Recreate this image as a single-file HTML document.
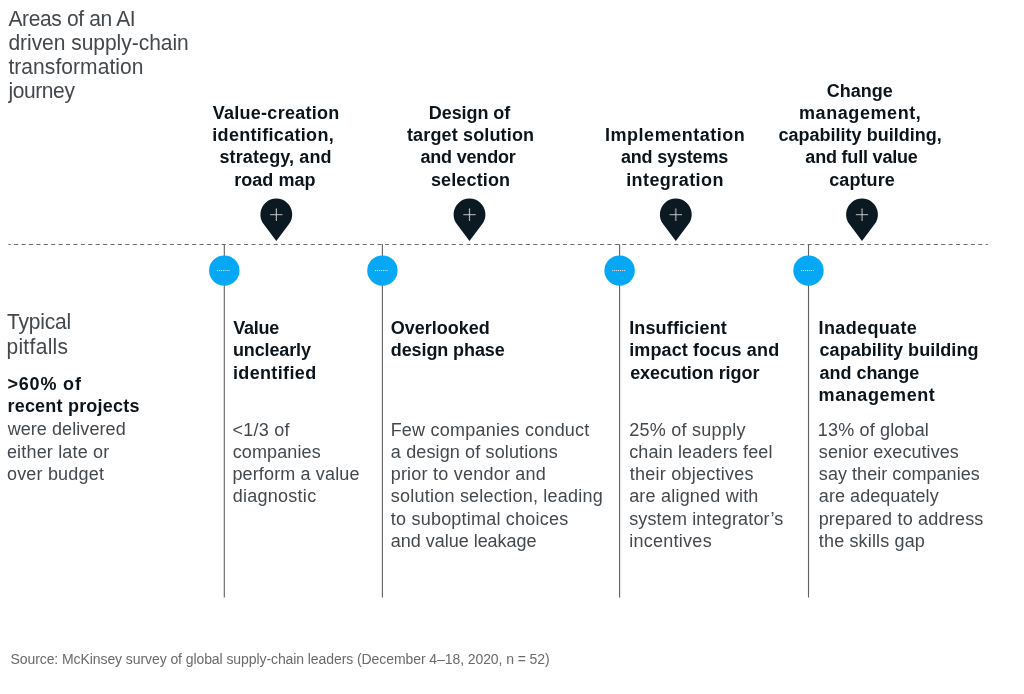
<!DOCTYPE html>
<html lang="en"><head><meta charset="utf-8"><title>Areas of an AI driven supply-chain transformation journey</title>
<style>
html,body{margin:0;padding:0;background:#fff;}
body{width:1024px;height:694px;position:relative;overflow:hidden;font-family:"Liberation Sans",sans-serif;}
.g{position:absolute;left:0;top:0;}
.t{position:absolute;white-space:nowrap;line-height:24px;height:24px;margin:0;}
.b{font-weight:700;font-size:18px;color:#0b141b;}
.r{font-weight:400;font-size:18px;color:#43484d;}
h1,h2,h3,p,footer{margin:0;padding:0;font-size:inherit;font-weight:inherit;}
.source .t{font-size:14px;color:#6a6a6a;}
.h{font-size:21px;transform:scaleY(1.07);transform-origin:0 19px;}
.m{transform:scaleY(1.04);transform-origin:0 18px;}
</style></head><body>
<svg class="g" width="1024" height="694" viewBox="0 0 1024 694">
<line x1="8.4" y1="244.5" x2="987.8" y2="244.5" stroke="#6e6e6e" stroke-width="1.1" stroke-dasharray="4.1 3.317" stroke-dashoffset="1.757"/>
<line x1="224.3" y1="244.3" x2="224.3" y2="597.5" stroke="#606060" stroke-width="1.1"/>
<line x1="382.4" y1="244.3" x2="382.4" y2="597.5" stroke="#606060" stroke-width="1.1"/>
<line x1="619.6" y1="244.3" x2="619.6" y2="597.5" stroke="#606060" stroke-width="1.1"/>
<line x1="808.5" y1="244.3" x2="808.5" y2="597.5" stroke="#606060" stroke-width="1.1"/>
<circle cx="224.3" cy="270.6" r="15.2" fill="#06a8f5"/>
<rect x="217.00" y="270" width="0.95" height="1" fill="#efe9e1"/>
<rect x="218.93" y="270" width="0.95" height="1" fill="#efe9e1"/>
<rect x="220.86" y="270" width="0.95" height="1" fill="#efe9e1"/>
<rect x="222.79" y="270" width="0.95" height="1" fill="#efe9e1"/>
<rect x="224.72" y="270" width="0.95" height="1" fill="#efe9e1"/>
<rect x="226.65" y="270" width="0.95" height="1" fill="#efe9e1"/>
<rect x="228.58" y="270" width="0.95" height="1" fill="#efe9e1"/>
<circle cx="382.4" cy="270.6" r="15.2" fill="#06a8f5"/>
<rect x="375.10" y="270" width="0.95" height="1" fill="#efe9e1"/>
<rect x="377.03" y="270" width="0.95" height="1" fill="#efe9e1"/>
<rect x="378.96" y="270" width="0.95" height="1" fill="#efe9e1"/>
<rect x="380.89" y="270" width="0.95" height="1" fill="#efe9e1"/>
<rect x="382.82" y="270" width="0.95" height="1" fill="#efe9e1"/>
<rect x="384.75" y="270" width="0.95" height="1" fill="#efe9e1"/>
<rect x="386.68" y="270" width="0.95" height="1" fill="#efe9e1"/>
<circle cx="619.6" cy="270.6" r="15.2" fill="#06a8f5"/>
<rect x="612.30" y="270" width="0.95" height="1" fill="#efe9e1"/>
<rect x="614.23" y="270" width="0.95" height="1" fill="#efe9e1"/>
<rect x="616.16" y="270" width="0.95" height="1" fill="#efe9e1"/>
<rect x="618.09" y="270" width="0.95" height="1" fill="#efe9e1"/>
<rect x="620.02" y="270" width="0.95" height="1" fill="#efe9e1"/>
<rect x="621.95" y="270" width="0.95" height="1" fill="#efe9e1"/>
<rect x="623.88" y="270" width="0.95" height="1" fill="#efe9e1"/>
<circle cx="808.5" cy="270.6" r="15.2" fill="#06a8f5"/>
<rect x="801.20" y="270" width="0.95" height="1" fill="#efe9e1"/>
<rect x="803.13" y="270" width="0.95" height="1" fill="#efe9e1"/>
<rect x="805.06" y="270" width="0.95" height="1" fill="#efe9e1"/>
<rect x="806.99" y="270" width="0.95" height="1" fill="#efe9e1"/>
<rect x="808.92" y="270" width="0.95" height="1" fill="#efe9e1"/>
<rect x="810.85" y="270" width="0.95" height="1" fill="#efe9e1"/>
<rect x="812.78" y="270" width="0.95" height="1" fill="#efe9e1"/>
<path d="M276.30 240.90 L263.58 223.94 A15.9 15.9 0 1 1 289.02 223.94 Z" fill="#0b1922"/>
<path d="M270.10 214.7 H282.50 M276.40 208.4 V221.0" stroke="#d4d4d4" stroke-width="0.9" fill="none"/>
<line x1="275.50" y1="209.4" x2="275.50" y2="220.6" stroke="#a8a8a8" stroke-width="0.8" stroke-dasharray="0.7 1.24" opacity="0.55"/>
<path d="M469.50 240.90 L456.78 223.94 A15.9 15.9 0 1 1 482.22 223.94 Z" fill="#0b1922"/>
<path d="M463.30 214.7 H475.70 M469.60 208.4 V221.0" stroke="#d4d4d4" stroke-width="0.9" fill="none"/>
<line x1="468.70" y1="209.4" x2="468.70" y2="220.6" stroke="#a8a8a8" stroke-width="0.8" stroke-dasharray="0.7 1.24" opacity="0.55"/>
<path d="M675.80 240.90 L663.08 223.94 A15.9 15.9 0 1 1 688.52 223.94 Z" fill="#0b1922"/>
<path d="M669.60 214.7 H682.00 M675.90 208.4 V221.0" stroke="#d4d4d4" stroke-width="0.9" fill="none"/>
<line x1="675.00" y1="209.4" x2="675.00" y2="220.6" stroke="#a8a8a8" stroke-width="0.8" stroke-dasharray="0.7 1.24" opacity="0.55"/>
<path d="M862.00 240.90 L849.28 223.94 A15.9 15.9 0 1 1 874.72 223.94 Z" fill="#0b1922"/>
<path d="M855.80 214.7 H868.20 M862.10 208.4 V221.0" stroke="#d4d4d4" stroke-width="0.9" fill="none"/>
<line x1="861.20" y1="209.4" x2="861.20" y2="220.6" stroke="#a8a8a8" stroke-width="0.8" stroke-dasharray="0.7 1.24" opacity="0.55"/>
</svg>
<h1 class="title">
<span class="t r h" style="left:8.40px;top:7px;letter-spacing:-0.357px">Areas of an AI</span>
<span class="t r h" style="left:8.40px;top:31px;letter-spacing:-0.031px">driven supply-chain</span>
<span class="t r h" style="left:8.40px;top:55px;letter-spacing:0.066px">transformation</span>
<span class="t r h" style="left:8.40px;top:79px;letter-spacing:-0.396px">journey</span>
</h1>
<h2 class="stage">
<span class="t b m" style="left:212.75px;top:101px;letter-spacing:0.265px">Value-creation</span>
<span class="t b m" style="left:212.25px;top:123px;letter-spacing:0.321px">identification,</span>
<span class="t b m" style="left:219.50px;top:145px;letter-spacing:0.108px">strategy, and</span>
<span class="t b m" style="left:234.20px;top:168px;letter-spacing:0.054px">road map</span>
</h2>
<h2 class="stage">
<span class="t b m" style="left:428.85px;top:101px;letter-spacing:-0.088px">Design of</span>
<span class="t b m" style="left:406.95px;top:123px;letter-spacing:0.150px">target solution</span>
<span class="t b m" style="left:420.45px;top:145px;letter-spacing:-0.190px">and vendor</span>
<span class="t b m" style="left:430.90px;top:168px;letter-spacing:0.146px">selection</span>
</h2>
<h2 class="stage">
<span class="t b m" style="left:605.05px;top:123px;letter-spacing:0.514px">Implementation</span>
<span class="t b m" style="left:620.90px;top:145px;letter-spacing:-0.164px">and systems</span>
<span class="t b m" style="left:626.15px;top:168px;letter-spacing:0.430px">integration</span>
</h2>
<h2 class="stage">
<span class="t b m" style="left:826.80px;top:79px;letter-spacing:0.001px">Change</span>
<span class="t b m" style="left:799.00px;top:101px;letter-spacing:0.577px">management,</span>
<span class="t b m" style="left:778.55px;top:123px;letter-spacing:0.005px">capability building,</span>
<span class="t b m" style="left:805.35px;top:145px;letter-spacing:-0.193px">and full value</span>
<span class="t b m" style="left:829.25px;top:168px;letter-spacing:0.082px">capture</span>
</h2>
<h2 class="side">
<span class="t r h" style="left:7.10px;top:310px;letter-spacing:-0.199px">Typical</span>
<span class="t r h" style="left:6.40px;top:335px;letter-spacing:0.311px">pitfalls</span>
</h2>
<p class="side-lead">
<span class="t b m" style="left:7.45px;top:372px;letter-spacing:0.828px">&gt;60% of</span>
<span class="t b m" style="left:7.45px;top:394px;letter-spacing:0.211px">recent projects</span>
</p>
<p class="side-body">
<span class="t r m" style="left:7.65px;top:417px;letter-spacing:0.073px">were delivered</span>
<span class="t r m" style="left:6.95px;top:440px;letter-spacing:0.172px">either late or</span>
<span class="t r m" style="left:6.95px;top:462px;letter-spacing:0.193px">over budget</span>
</p>
<h3 class="pit">
<span class="t b m" style="left:233.15px;top:316px;letter-spacing:-0.255px">Value</span>
<span class="t b m" style="left:232.95px;top:338px;letter-spacing:-0.129px">unclearly</span>
<span class="t b m" style="left:232.95px;top:361px;letter-spacing:0.355px">identified</span>
</h3>
<p class="body">
<span class="t r m" style="left:232.55px;top:418px;letter-spacing:0.242px">&lt;1/3 of</span>
<span class="t r m" style="left:232.65px;top:440px;letter-spacing:0.119px">companies</span>
<span class="t r m" style="left:232.45px;top:462px;letter-spacing:0.139px">perform a value</span>
<span class="t r m" style="left:232.65px;top:484px;letter-spacing:0.272px">diagnostic</span>
</p>
<h3 class="pit">
<span class="t b m" style="left:390.75px;top:316px;letter-spacing:-0.004px">Overlooked</span>
<span class="t b m" style="left:390.75px;top:338px;letter-spacing:-0.093px">design phase</span>
</h3>
<p class="body">
<span class="t r m" style="left:390.65px;top:418px;letter-spacing:0.230px">Few companies conduct</span>
<span class="t r m" style="left:390.85px;top:440px;letter-spacing:0.135px">a design of solutions</span>
<span class="t r m" style="left:390.65px;top:462px;letter-spacing:0.229px">prior to vendor and</span>
<span class="t r m" style="left:390.85px;top:484px;letter-spacing:0.222px">solution selection, leading</span>
<span class="t r m" style="left:390.85px;top:507px;letter-spacing:0.210px">to suboptimal choices</span>
<span class="t r m" style="left:390.85px;top:529px;letter-spacing:-0.025px">and value leakage</span>
</p>
<h3 class="pit">
<span class="t b m" style="left:629.15px;top:316px;letter-spacing:0.154px">Insufficient</span>
<span class="t b m" style="left:629.15px;top:338px;letter-spacing:0.131px">impact focus and</span>
<span class="t b m" style="left:630.15px;top:361px;letter-spacing:-0.051px">execution rigor</span>
</h3>
<p class="body">
<span class="t r m" style="left:629.15px;top:418px;letter-spacing:0.269px">25% of supply</span>
<span class="t r m" style="left:629.15px;top:440px;letter-spacing:0.130px">chain leaders feel</span>
<span class="t r m" style="left:629.65px;top:462px;letter-spacing:0.256px">their objectives</span>
<span class="t r m" style="left:629.15px;top:484px;letter-spacing:0.209px">are aligned with</span>
<span class="t r m" style="left:629.15px;top:507px;letter-spacing:0.150px">system integrator’s</span>
<span class="t r m" style="left:629.15px;top:529px;letter-spacing:0.273px">incentives</span>
</p>
<h3 class="pit">
<span class="t b m" style="left:818.55px;top:316px;letter-spacing:0.366px">Inadequate</span>
<span class="t b m" style="left:819.55px;top:338px;letter-spacing:0.049px">capability building</span>
<span class="t b m" style="left:819.55px;top:361px;letter-spacing:-0.034px">and change</span>
<span class="t b m" style="left:818.55px;top:383px;letter-spacing:0.585px">management</span>
</h3>
<p class="body">
<span class="t r m" style="left:817.85px;top:418px;letter-spacing:0.160px">13% of global</span>
<span class="t r m" style="left:818.85px;top:440px;letter-spacing:0.052px">senior executives</span>
<span class="t r m" style="left:818.85px;top:462px;letter-spacing:0.046px">say their companies</span>
<span class="t r m" style="left:818.85px;top:484px;letter-spacing:0.054px">are adequately</span>
<span class="t r m" style="left:818.65px;top:507px;letter-spacing:0.200px">prepared to address</span>
<span class="t r m" style="left:818.85px;top:529px;letter-spacing:0.151px">the skills gap</span>
</p>
<footer class="source">
<span class="t r" style="left:10.50px;top:647px;letter-spacing:-0.081px">Source: McKinsey survey of global supply-chain leaders (December 4–18, 2020, n = 52)</span>
</footer>
</body></html>
